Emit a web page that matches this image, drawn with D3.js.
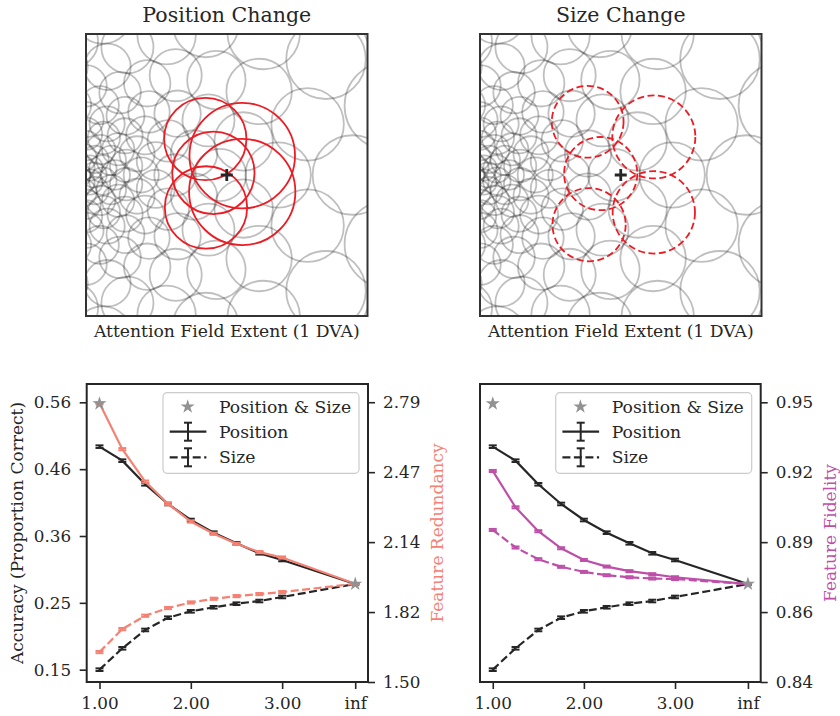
<!DOCTYPE html>
<html>
<head>
<meta charset="utf-8">
<script src="https://cdn.jsdelivr.net/npm/d3@7/dist/d3.min.js"></script>
<style>
  body { margin: 0; background: #fff; }
  svg text { font-family: 'DejaVu Serif', serif !important; fill: #262626; }
</style>
</head>
<body>
<div id="chart"></div>
<script>
const width = 840;
const height = 716;
const serif = "'DejaVu Serif', serif";

// ---- bottom plots: data ----
// "inf" is drawn at 3.8 on the x axis
const xVals = [1.00, 1.25, 1.50, 1.75, 2.00, 2.25, 2.50, 2.75, 3.00, 3.80];
const xTickVals = [1, 2, 3, 3.8];
const xTickLabels = ["1.00", "2.00", "3.00", "inf"];

const accPosition = [0.492, 0.4705, 0.4343, 0.4041, 0.3795, 0.3601, 0.3438, 0.3285, 0.3182, 0.2814];
const accSize = [0.150, 0.1828, 0.2109, 0.2297, 0.2395, 0.2457, 0.2512, 0.2553, 0.2615, 0.2814];
const accErr = [0.002, 0.002, 0.002, 0.002, 0.002, 0.002, 0.002, 0.002, 0.002, 0.001];
const bothX = [1.00, 3.80];
const accBoth = [0.558, 0.2814];

const redundancyPosition = [2.785, 2.5735, 2.424, 2.3215, 2.2399, 2.1833, 2.1372, 2.099, 2.074, 1.953];
const redundancySize = [1.638, 1.744, 1.8055, 1.841, 1.8668, 1.8838, 1.896, 1.9054, 1.9146, 1.953];
const redundancyErr = [0.005, 0.005, 0.005, 0.005, 0.005, 0.005, 0.005, 0.005, 0.005, 0.003];

const fidelityPosition = [0.9230, 0.9087, 0.8993, 0.8926, 0.8880, 0.8854, 0.8836, 0.8824, 0.8812, 0.8785];
const fidelitySize = [0.8998, 0.8929, 0.8883, 0.8853, 0.8833, 0.8820, 0.8812, 0.8807, 0.8805, 0.8785];
const fidelityErr = [0.0004, 0.0004, 0.0004, 0.0004, 0.0004, 0.0004, 0.0004, 0.0004, 0.0004, 0.0003];

const accTicks = [0.15, 0.2525, 0.355, 0.4575, 0.56];
const accTickLabels = ["0.15", "0.25", "0.36", "0.46", "0.56"];
const redundancyTicks = [1.50, 1.8225, 2.145, 2.4675, 2.79];
const redundancyTickLabels = ["1.50", "1.82", "2.14", "2.47", "2.79"];
const fidelityTicks = [0.84, 0.8675, 0.895, 0.9225, 0.95];
const fidelityTickLabels = ["0.84", "0.86", "0.89", "0.92", "0.95"];

// ---- top panels: receptive field layout (DVA units, fovea at left edge centre) ----
const ringEcc = [0.23, 0.51, 0.83, 1.17, 1.57, 2.02, 2.53, 3.13, 3.81, 4.58, 5.46, 6.46, 7.57, 8.82, 10.24];
const ringRad = [0.36, 0.39, 0.42, 0.46, 0.50, 0.54, 0.59, 0.66, 0.74, 0.83, 0.93, 1.03, 1.13, 1.25, 1.38];
const ringCount = [6, 9, 12, 14, 16, 16, 16, 16, 15, 15, 14, 14, 14, 14, 14];

const target = [4.0, 0.0];
// attention fields after a position change
const posFieldX = [3.39, 4.44, 3.62, 4.44, 3.41];
const posFieldY = [1.02, 0.55, 0.06, -0.48, -0.92];
const posFieldR = [1.17, 1.50, 1.17, 1.51, 1.17];
// attention fields after a size change
const sizeFieldX = [3.06, 4.94, 3.43, 4.94, 3.10];
const sizeFieldY = [1.51, 1.08, 0.04, -1.06, -1.41];
const sizeFieldR = [1.02, 1.18, 1.04, 1.17, 1.04];

const ink = "#262626";
const salmon = "#f58173";
const magenta = "#bd4fa8";
const starGray = "#929292";
const red = "#ec1c24";

const svg = d3.select("#chart").append("svg")
    .attr("width", width)
    .attr("height", height);

// build receptive field list
const fields = [];
ringEcc.forEach((e, i) => {
    const n = ringCount[i];
    const off = (i % 2) * Math.PI / n;
    for (let k = 0; k < n; k++) {
        const a = off + k * 2 * Math.PI / n;
        fields.push({x: e * Math.cos(a), y: e * Math.sin(a), r: ringRad[i]});
    }
});

function addText(parent, size) {
    return parent.append("text")
        .attr("font-family", serif)
        .style("font-family", serif)
        .style("font-size", size + "px");
}

function topPanel(left, title, fx, fy, fr, dashed, id) {
    const x = d3.scaleLinear().domain([0, 8]).range([left, left + 281.5]);
    const y = d3.scaleLinear().domain([-4, 4]).range([316, 34]);
    const k = x(1) - x(0);

    svg.append("clipPath").attr("id", id)
        .append("rect")
        .attr("x", x(0)).attr("y", y(4))
        .attr("width", x(8) - x(0)).attr("height", y(-4) - y(4));

    const g = svg.append("g").attr("clip-path", `url(#${id})`);

    g.selectAll("circle.rf")
        .data(fields)
        .enter().append("circle")
        .attr("class", "rf")
        .attr("cx", d => x(d.x))
        .attr("cy", d => y(d.y))
        .attr("r", d => d.r * k)
        .attr("fill", "none")
        .attr("stroke", "#000")
        .attr("stroke-opacity", 0.25)
        .attr("stroke-width", 1.8);

    g.selectAll("circle.af")
        .data(fx.map((v, i) => ({x: v, y: fy[i], r: fr[i]})))
        .enter().append("circle")
        .attr("class", "af")
        .attr("cx", d => x(d.x))
        .attr("cy", d => y(d.y))
        .attr("r", d => d.r * k)
        .attr("fill", "none")
        .attr("stroke", red)
        .attr("stroke-width", 1.8)
        .attr("stroke-dasharray", dashed ? "7,3.5" : null);

    // target cross
    g.append("path")
        .attr("transform", `translate(${x(target[0])},${y(target[1])})`)
        .attr("fill", ink)
        .attr("d", "M-6,-1.4H6V1.4H-6Z M-1.4,-6H1.4V6H-1.4Z");

    svg.append("rect")
        .attr("x", x(0)).attr("y", y(4))
        .attr("width", x(8) - x(0)).attr("height", y(-4) - y(4))
        .attr("fill", "none")
        .attr("stroke", "#333")
        .attr("stroke-width", 2);

    addText(svg, 20.5)
        .attr("x", (x(0) + x(8)) / 2)
        .attr("y", 22)
        .attr("text-anchor", "middle")
        .text(title);

    addText(svg, 17.2)
        .attr("x", (x(0) + x(8)) / 2)
        .attr("y", 337)
        .attr("text-anchor", "middle")
        .text("Attention Field Extent (1 DVA)");
}

topPanel(86, "Position Change", posFieldX, posFieldY, posFieldR, false, "clipA");
topPanel(480, "Size Change", sizeFieldX, sizeFieldY, sizeFieldR, true, "clipB");

// ---- bottom plots ----
const plotTop = 384, plotBottom = 682;

function drawSeries(g, x, y, vals, errs, color, dashed) {
    const line = d3.line().x((d, i) => x(xVals[i])).y(d => y(d));
    g.append("path")
        .datum(vals)
        .attr("d", line)
        .attr("fill", "none")
        .attr("stroke", color)
        .attr("stroke-width", 2.2)
        .attr("stroke-dasharray", dashed ? "8,3.5" : null);
    const eb = g.append("g");
    vals.forEach((v, i) => {
        const cx = x(xVals[i]);
        const y0 = y(v - errs[i]), y1 = y(v + errs[i]);
        eb.append("line").attr("x1", cx).attr("x2", cx).attr("y1", y0).attr("y2", y1)
            .attr("stroke", color).attr("stroke-width", 2);
        [y0, y1].forEach(yy => {
            eb.append("line").attr("x1", cx - 4).attr("x2", cx + 4).attr("y1", yy).attr("y2", yy)
                .attr("stroke", color).attr("stroke-width", 2);
        });
    });
}

function drawStars(g, x, y) {
    g.selectAll("path.star")
        .data(bothX.map((v, i) => [v, accBoth[i]]))
        .enter().append("path")
        .attr("class", "star")
        .attr("transform", d => `translate(${x(d[0])},${y(d[1])})`)
        .attr("d", d3.symbol(d3.symbolStar, 62)())
        .attr("fill", starGray);
}

function styleTicks(sel) {
    sel.attr("font-family", serif);
    sel.selectAll(".tick text")
        .attr("font-family", serif)
        .style("font-family", serif)
        .style("font-size", "16.8px")
        .attr("fill", ink);
    sel.selectAll(".tick line").attr("stroke", ink).attr("stroke-width", 1.6);
    sel.select(".domain").remove();
}

function bottomPanel(left, right, twin) {
    const x = d3.scaleLinear().domain([0.86, 3.94]).range([left, right]);
    const yAcc = d3.scaleLinear().domain([0.1311, 0.5881]).range([plotBottom, plotTop]);
    const yTwin = d3.scaleLinear().domain(twin.domain).range([plotBottom, plotTop]);

    const g = svg.append("g");

    drawSeries(g, x, yAcc, accPosition, accErr, ink, false);
    drawSeries(g, x, yAcc, accSize, accErr, ink, true);
    drawSeries(g, x, yTwin, twin.position, twin.err, twin.color, false);
    drawSeries(g, x, yTwin, twin.size, twin.err, twin.color, true);
    drawStars(g, x, yAcc);

    // frame
    svg.append("rect")
        .attr("x", left).attr("y", plotTop)
        .attr("width", right - left).attr("height", plotBottom - plotTop)
        .attr("fill", "none").attr("stroke", ink).attr("stroke-width", 2);

    // x axis
    const xAxis = d3.axisBottom(x).tickValues(xTickVals)
        .tickFormat((d, i) => xTickLabels[i]).tickSize(7).tickPadding(8);
    svg.append("g").attr("transform", `translate(0,${plotBottom})`).call(xAxis).call(styleTicks);

    if (twin.showLeft) {
        const yAxis = d3.axisLeft(yAcc).tickValues(accTicks)
            .tickFormat((d, i) => accTickLabels[i]).tickSize(7).tickPadding(8.5);
        svg.append("g").attr("transform", `translate(${left},0)`).call(yAxis).call(styleTicks);
        addText(svg, 17)
            .attr("transform", `translate(17,${(plotTop + plotBottom) / 2}) rotate(-90)`)
            .attr("text-anchor", "middle")
            .attr("dy", "0.35em")
            .text("Accuracy (Proportion Correct)");
    }

    const rAxis = d3.axisRight(yTwin).tickValues(twin.ticks)
        .tickFormat((d, i) => twin.tickLabels[i]).tickSize(7).tickPadding(8);
    svg.append("g").attr("transform", `translate(${right},0)`).call(rAxis).call(styleTicks);

    addText(svg, 17)
        .attr("transform", `translate(${twin.labelX},${(plotTop + plotBottom) / 2}) rotate(-90)`)
        .attr("text-anchor", "middle")
        .attr("dy", "0.35em")
        .style("fill", twin.color)
        .text(twin.label);

    // legend
    const lg = svg.append("g").attr("transform", `translate(${right - 205},${plotTop + 8.7})`);
    lg.append("rect")
        .attr("width", 196).attr("height", 80.6).attr("rx", 4)
        .attr("fill", "#fff").attr("fill-opacity", 0.8)
        .attr("stroke", "#cccccc").attr("stroke-width", 1.2);
    lg.append("path")
        .attr("transform", "translate(24.7,14)")
        .attr("d", d3.symbol(d3.symbolStar, 62)())
        .attr("fill", starGray);
    [["Position", null, 39], ["Size", "8,3.5", 64.6]].forEach(([name, dash, yy]) => {
        lg.append("line").attr("x1", 6.7).attr("x2", 43.4).attr("y1", yy).attr("y2", yy)
            .attr("stroke", ink).attr("stroke-width", 2.2).attr("stroke-dasharray", dash);
        lg.append("line").attr("x1", 25).attr("x2", 25).attr("y1", yy - 9).attr("y2", yy + 9)
            .attr("stroke", ink).attr("stroke-width", 2);
        [yy - 9, yy + 9].forEach(cy => lg.append("line").attr("x1", 21).attr("x2", 29)
            .attr("y1", cy).attr("y2", cy).attr("stroke", ink).attr("stroke-width", 2));
    });
    [["Position & Size", 14], ["Position", 39], ["Size", 64.6]].forEach(([t, yy]) => {
        addText(lg, 17.2).attr("x", 56).attr("y", yy).attr("dy", "0.35em").text(t);
    });
}

bottomPanel(86.7, 368, {
    domain: [1.50, 2.874], position: redundancyPosition, size: redundancySize,
    err: redundancyErr, color: salmon, ticks: redundancyTicks,
    tickLabels: redundancyTickLabels, label: "Feature Redundancy", labelX: 437, showLeft: true
});
bottomPanel(480, 760.7, {
    domain: [0.84, 0.9572], position: fidelityPosition, size: fidelitySize,
    err: fidelityErr, color: magenta, ticks: fidelityTicks,
    tickLabels: fidelityTickLabels, label: "Feature Fidelity", labelX: 830, showLeft: false
});
</script>
</body>
</html>
